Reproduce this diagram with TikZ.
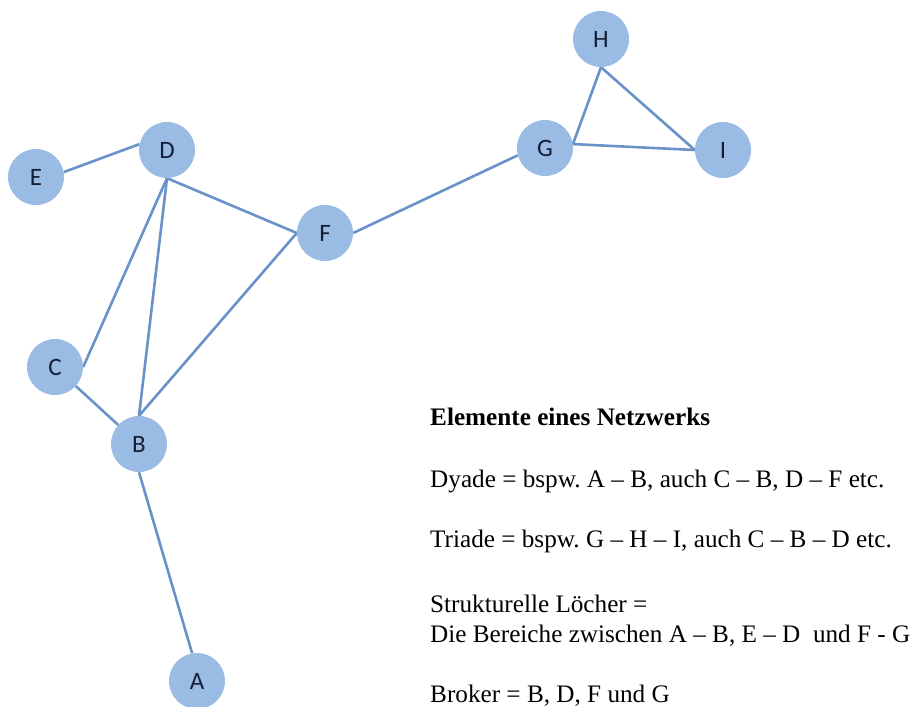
\documentclass[tikz,border=0pt]{standalone}
\usepackage{fontspec}
\usetikzlibrary{backgrounds}
\setmainfont{Liberation Serif}
\newfontfamily\nodefont{Carlito}
\definecolor{nodefill}{RGB}{153,187,228}
\definecolor{edgecol}{RGB}{104,146,200}
\definecolor{labelcol}{RGB}{22,30,52}
\frenchspacing
\begin{document}
\begin{tikzpicture}[x=1pt,y=-1pt,
  netnode/.style={circle,fill=nodefill,minimum size=56pt,inner sep=0pt,
    font=\nodefont\fontsize{25}{25}\selectfont,text=labelcol},
  edge/.style={draw=edgecol,line width=2.6pt},
  infotext/.style={anchor=base west,inner sep=0pt,font=\fontsize{25.2}{30}\selectfont}]
\useasboundingbox (0,0) rectangle (917,706);
% nodes
\node[netnode] (H) at (601,39) {H};
\node[netnode] (G) at (545,148) {G};
\node[netnode] (I) at (723,150) {I};
\node[netnode] (D) at (167,150) {D};
\node[netnode] (E) at (36,177) {E};
\node[netnode] (F) at (325,233) {F};
\node[netnode] (C) at (55,367) {C};
\node[netnode] (B) at (139,444) {B};
\node[netnode] (A) at (197,681) {A};
% edges
\begin{scope}[on background layer]
\draw[edge] (E.10) -- (D.168);
\draw[edge] (D.south) -- (F.west);
\draw[edge] (D.south) -- (C.east);
\draw[edge] (D.south) -- (B.north);
\draw[edge] (F.west) -- (B.north);
\draw[edge] (C) -- (B);
\draw[edge] (B.south) -- (A.100);
\draw[edge] (F.east) -- (G.195);
\draw[edge] (G.8) -- (H.south);
\draw[edge] (G.8) -- (I.west);
\draw[edge] (H.south) -- (I.west);
\end{scope}
% text
\node[infotext] (t1) at (430,425) {\textbf{Elemente eines Netzwerks}};
\node[infotext] (t2) at (430,487) {Dyade = bspw. A – B, auch C – B, D – F etc.};
\node[infotext] (t3) at (430,547) {Triade = bspw. G – H – I, auch C – B – D etc.};
\node[infotext] (t4) at (430,612) {Strukturelle Löcher =};
\node[infotext] (t5) at (430,642) {Die Bereiche zwischen A – B, E – D~ und F - G};
\node[infotext] (t6) at (430,702) {Broker = B, D, F und G};
\end{tikzpicture}
\end{document}
